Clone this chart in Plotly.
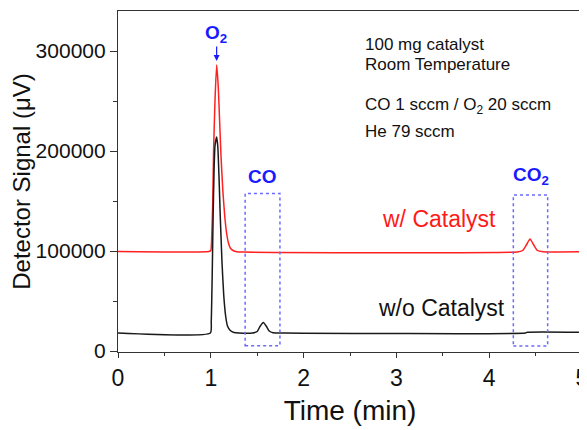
import plotly.graph_objects as go

# ---- data ----
t_with = [0, 0.98, 1.00, 1.01, 1.02, 1.03, 1.045, 1.063, 1.08, 1.095, 1.11, 1.13, 1.15, 1.17, 1.19,
          1.21, 1.24, 1.28, 1.35, 4.30, 4.36, 4.40, 4.44, 4.48, 4.52, 4.58, 5.0]
sig_with = [99500, 99500, 100500, 115000, 145000, 200000, 250000, 286000, 265000, 230000, 195000,
            160000, 135000, 118000, 108000, 103000, 100500, 99300, 99000, 99000, 100500, 106000,
            112000, 106000, 100500, 99300, 99300]

t_without = [0, 0.995, 1.005, 1.015, 1.025, 1.035, 1.045, 1.063, 1.075, 1.09, 1.10, 1.12, 1.14, 1.16,
             1.18, 1.21, 1.25, 1.30, 1.45, 1.50, 1.53, 1.566, 1.60, 1.63, 1.67, 1.80, 4.39, 4.41, 5.0]
sig_without = [18000, 18000, 30000, 75000, 135000, 180000, 205000, 214000, 205000, 170000, 140000,
               90000, 55000, 35000, 25000, 20500, 18500, 18000, 18000, 19500, 24500, 28500, 24500,
               20000, 18300, 18000, 18000, 18800, 18800]

x_ticks = [0, 1, 2, 3, 4, 5]
y_ticks = [0, 100000, 200000, 300000]
y_tick_text = ["0", "100000", "200000", "300000"]

# dotted boxes marking the CO and CO2 windows: (t0, t1, s0, s1)
co_box = (1.37, 1.745, 5300, 157500)
co2_box = (4.26, 4.63, 5000, 156000)

info_lines = ["100 mg catalyst", "Room Temperature", "CO 1 sccm / O<sub>2</sub> 20 sccm", "He 79 sccm"]
info_y = [307000, 287000, 245000, 219500]

FONT = "Arial, Liberation Sans, sans-serif"
BLUE = "#1a1aff"

fig = go.Figure()
fig.add_trace(go.Scatter(x=t_with, y=sig_with, mode="lines",
                         line=dict(color="#ff2020", width=1.5, shape="spline", smoothing=0.5),
                         name="w/ Catalyst", showlegend=False))
fig.add_trace(go.Scatter(x=t_without, y=sig_without, mode="lines",
                         line=dict(color="#1a1a1a", width=1.5, shape="spline", smoothing=0.5),
                         name="w/o Catalyst", showlegend=False))

for b in (co_box, co2_box):
    fig.add_shape(type="rect", xref="x", yref="y", x0=b[0], x1=b[1], y0=b[2], y1=b[3],
                  line=dict(color="#6a6aff", width=1.5, dash="dot"), fillcolor="rgba(0,0,0,0)")

ann = []
ann.append(dict(x=1.055, y=317500, text="<b>O<sub>2</sub></b>", showarrow=False,
                font=dict(family=FONT, size=19, color=BLUE), xanchor="center", yanchor="middle"))
ann.append(dict(x=1.063, y=290000, ax=1.063, ay=306000, axref="x", ayref="y", xref="x", yref="y",
                text="", showarrow=True, arrowhead=2, arrowsize=1, arrowwidth=1.2, arrowcolor=BLUE))
ann.append(dict(x=1.555, y=175000, text="<b>CO</b>", showarrow=False,
                font=dict(family=FONT, size=19, color=BLUE), xanchor="center", yanchor="middle"))
ann.append(dict(x=4.45, y=175000, text="<b>CO<sub>2</sub></b>", showarrow=False,
                font=dict(family=FONT, size=19, color=BLUE), xanchor="center", yanchor="middle"))
for txt, yy in zip(info_lines, info_y):
    ann.append(dict(x=2.635, y=yy, text=txt, showarrow=False, xanchor="left", yanchor="middle",
                    font=dict(family=FONT, size=17, color="#111")))
ann.append(dict(x=3.46, y=132000, text="w/ Catalyst", showarrow=False, xanchor="center",
                yanchor="middle", font=dict(family=FONT, size=23, color="#ff1a1a")))
ann.append(dict(x=3.49, y=43000, text="w/o Catalyst", showarrow=False, xanchor="center",
                yanchor="middle", font=dict(family=FONT, size=23, color="#111")))

# the page body adds an 8 px offset, so the figure is 8 px smaller than the window
fig.update_layout(
    width=579, height=422,
    margin=dict(l=110, r=5, t=3, b=78, autoexpand=False),
    paper_bgcolor="white", plot_bgcolor="white",
    font=dict(family=FONT, color="#111"),
    annotations=ann,
    showlegend=False,
    xaxis=dict(range=[0, 5], tickvals=x_ticks, ticks="outside", ticklen=5, tickwidth=1.2,
               tickcolor="#333", showline=True, linecolor="#333", linewidth=1.2, mirror=True,
               showgrid=False, zeroline=False, automargin=False, ticklabeloverflow="allow",
               tickfont=dict(family=FONT, size=23, color="#111"),
               minor=dict(dtick=0.5, ticks="outside", ticklen=3, tickcolor="#333", tickwidth=1.2),
               title=dict(text="Time (min)", font=dict(family=FONT, size=28, color="#111"), standoff=10)),
    xaxis2=dict(range=[0, 5], overlaying="x", side="top", anchor="y", tickvals=x_ticks,
                ticks="inside", ticklen=5, tickwidth=1.2, tickcolor="#333", showticklabels=False,
                showgrid=False, zeroline=False, showline=False, automargin=False,
                minor=dict(dtick=0.5, ticks="inside", ticklen=4, tickcolor="#333", tickwidth=1.2)),
    yaxis=dict(range=[-1000, 340000], tickvals=y_ticks, ticktext=y_tick_text, ticks="outside",
               ticklen=7, tickwidth=1.2, tickcolor="#333", showline=True, linecolor="#333",
               linewidth=1.2, mirror=True, showgrid=False, zeroline=False, automargin=False,
               ticklabeloverflow="allow",
               tickfont=dict(family=FONT, size=21, color="#111"),
               minor=dict(dtick=50000, ticks="outside", ticklen=4, tickcolor="#333", tickwidth=1.2),
               title=dict(text="Detector Signal (μV)", font=dict(family=FONT, size=24, color="#111"),
                          standoff=8)),
)

fig.write_html("out.html")
